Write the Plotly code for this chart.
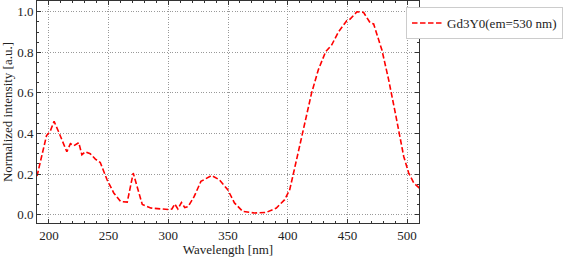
import plotly.graph_objects as go

wavelength = [190, 194, 198, 201, 204.3, 208, 212, 215, 218, 221, 225, 227.6, 230.4, 234.6, 238.9, 243,
              248.7, 254.3, 260, 265.6, 270.6, 274, 278.2, 285.2, 293.6, 300.6, 303, 305.4, 308, 311,
              313.8, 316.6, 321.7, 327.3, 336.3, 342.7, 349.8, 355.4, 362.4, 372.2, 382, 390.5, 397.5,
              401.7, 407.4, 413, 420, 425.6, 431.8, 436.8, 442.5, 449.5, 452.3, 458, 463.5, 469, 472,
              479, 484.6, 490.2, 494.4, 497.2, 501.4, 505.7, 511.3]
intensity = [0.19, 0.29, 0.39, 0.41, 0.46, 0.41, 0.35, 0.31, 0.35, 0.34, 0.355, 0.295, 0.31, 0.30, 0.274,
             0.257, 0.172, 0.107, 0.065, 0.062, 0.205, 0.14, 0.05, 0.033, 0.028, 0.025, 0.028, 0.053,
             0.028, 0.06, 0.035, 0.04, 0.09, 0.164, 0.193, 0.172, 0.123, 0.058, 0.016, 0.008, 0.011,
             0.033, 0.074, 0.123, 0.27, 0.418, 0.599, 0.713, 0.803, 0.836, 0.90, 0.956, 0.964, 1.0,
             0.997, 0.946, 0.94, 0.81, 0.664, 0.50, 0.369, 0.287, 0.205, 0.156, 0.126]

x_ticks = [200, 250, 300, 350, 400, 450, 500]
y_ticks = [0.0, 0.2, 0.4, 0.6, 0.8, 1.0]
y_tick_labels = ["0.0", "0.2", "0.4", "0.6", "0.8", "1.0"]

font = "Liberation Serif"

fig = go.Figure()
fig.add_trace(go.Scatter(
    x=wavelength, y=intensity, mode="lines", name="Gd3Y0(em=530 nm)",
    line=dict(color="#ff0000", width=1.6, dash="5.5px,2.5px"),
))

axis_common = dict(
    showline=True, linecolor="#333333", linewidth=1, mirror="allticks",
    ticks="inside", ticklen=4, tickcolor="#333333", tickwidth=0.8,
    showgrid=True, gridcolor="#999999", gridwidth=0.7, griddash="1px,1.6px",
    zeroline=False, automargin=False,
    tickfont=dict(family=font, size=13, color="#222222"),
)

fig.update_xaxes(
    range=[190, 510], tickvals=x_ticks,
    minor=dict(dtick=10, ticks="inside", ticklen=2, tickcolor="#333333", showgrid=False),
    title=dict(text="Wavelength [nm]", font=dict(family=font, size=13, color="#222222"), standoff=4),
    **axis_common,
)
fig.update_yaxes(
    range=[-0.041, 1.053], tickvals=y_ticks, ticktext=y_tick_labels,
    minor=dict(dtick=0.05, tick0=0, ticks="inside", ticklen=2, tickcolor="#333333", showgrid=False),
    title=dict(text="Normalized intensity [a.u.]", font=dict(family=font, size=13, color="#222222"), standoff=2),
    **axis_common,
)

fig.update_layout(
    width=567, height=257,
    margin=dict(l=37, r=148, t=1, b=34),
    paper_bgcolor="white", plot_bgcolor="white",
    showlegend=True,
    legend=dict(
        x=0.966, y=0.973, xanchor="left", yanchor="top",
        bgcolor="white", bordercolor="#cccccc", borderwidth=1,
        font=dict(family=font, size=13, color="#222222"),
    ),
)

fig.write_html("out.html", config={"displayModeBar": False},
               post_script="document.body.style.margin='0';")
